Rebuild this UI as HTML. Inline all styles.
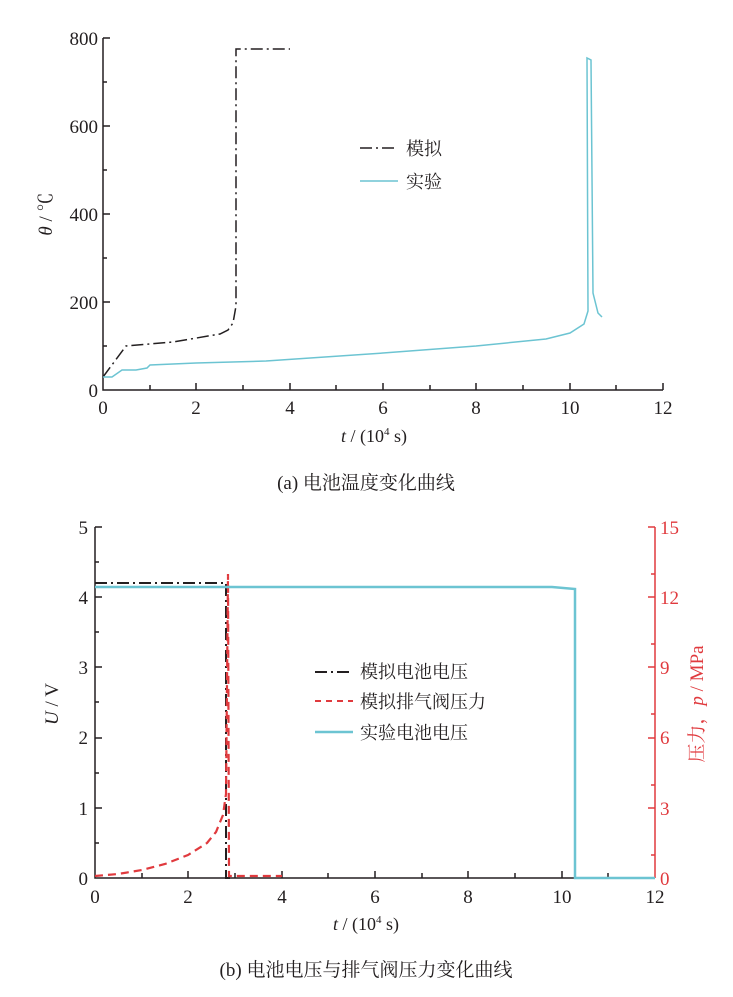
<!DOCTYPE html><html><head><meta charset="utf-8"><style>body{margin:0;background:#fff}svg text{font-family:"Liberation Serif","Noto Serif CJK SC",serif;}</style></head><body>
<svg width="733" height="992" viewBox="0 0 733 992" xmlns="http://www.w3.org/2000/svg">
<g stroke="#231f20" stroke-width="1.5" fill="none">
<path d="M103,38 V390 H663"/>
<path d="M103,38h7M103,82h4M103,126h7M103,170h4M103,214h7M103,258h4M103,302h7M103,346h4"/>
<path d="M150,390v-5M196,390v-7M243,390v-5M290,390v-7M336,390v-5M383,390v-7M430,390v-5M476,390v-7M523,390v-5M570,390v-7M616,390v-5M663,390v-7"/>
</g>
<g font-size="19" fill="#231f20" text-anchor="end">
<text x="98" y="45">800</text><text x="98" y="133">600</text><text x="98" y="221">400</text><text x="98" y="309">200</text><text x="98" y="397">0</text></g>
<g font-size="19" fill="#231f20" text-anchor="middle">
<text x="103" y="414">0</text><text x="196" y="414">2</text><text x="290" y="414">4</text><text x="383" y="414">6</text><text x="476" y="414">8</text><text x="570" y="414">10</text><text x="663" y="414">12</text></g>
<text x="341" y="442" font-size="18" fill="#231f20"><tspan font-style="italic">t</tspan> / (10<tspan font-size="11" dy="-7">4</tspan><tspan dy="7"> s)</tspan></text>
<text transform="translate(52,214) rotate(-90)" font-size="19" text-anchor="middle" fill="#231f20"><tspan font-style="italic">θ</tspan> / ℃</text>
<path d="M103,377L126,346L173,342L220,334L228,330L233,323L236,306L236,49L290,49" stroke="#231f20" stroke-width="1.5" fill="none" stroke-dasharray="12,4,2,4"/>
<path d="M103,377L112,377L122,370L136,370L147,368L150,365L196,363L266,361L383,353L476,346L546,339L570,333L584,324L588,311L587,58L591,60L593,293L598,313L602,317" stroke="#6cc4d2" stroke-width="1.5" fill="none"/>
<path d="M360,148h38" stroke="#231f20" stroke-width="1.5" stroke-dasharray="12,4,2,4"/>
<path d="M360,181h38" stroke="#6cc4d2" stroke-width="1.5"/>
<text x="406" y="155" font-size="18" fill="#231f20">模拟</text>
<text x="406" y="188" font-size="18" fill="#231f20">实验</text>
<text x="366" y="489" font-size="19" text-anchor="middle" fill="#231f20">(a)  电池温度变化曲线</text>

<g stroke="#231f20" stroke-width="1.5" fill="none">
<path d="M95,527 V878 H655"/>
<path d="M95,527h7M95,562h4M95,597h7M95,632h4M95,667h7M95,702h4M95,738h7M95,773h4M95,808h7M95,843h4"/>
<path d="M142,878v-5M188,878v-7M235,878v-5M282,878v-7M328,878v-5M375,878v-7M422,878v-5M468,878v-7M515,878v-5M562,878v-7M608,878v-5"/>
</g>
<g stroke="#e03a3e" stroke-width="1.5" fill="none">
<path d="M655,527V878"/>
<path d="M655,527h-7M655,574h-4M655,597h-7M655,644h-4M655,667h-7M655,714h-4M655,738h-7M655,785h-4M655,808h-7M655,855h-4"/>
</g>
<g font-size="19" fill="#231f20" text-anchor="end">
<text x="88" y="534">5</text><text x="88" y="604">4</text><text x="88" y="674">3</text><text x="88" y="744">2</text><text x="88" y="815">1</text><text x="88" y="885">0</text></g>
<g font-size="19" fill="#e03a3e">
<text x="660" y="534">15</text><text x="660" y="604">12</text><text x="660" y="674">9</text><text x="660" y="744">6</text><text x="660" y="815">3</text><text x="660" y="885">0</text></g>
<g font-size="19" fill="#231f20" text-anchor="middle">
<text x="95" y="903">0</text><text x="188" y="903">2</text><text x="282" y="903">4</text><text x="375" y="903">6</text><text x="468" y="903">8</text><text x="562" y="903">10</text><text x="655" y="903">12</text></g>
<text x="333" y="930" font-size="18" fill="#231f20"><tspan font-style="italic">t</tspan> / (10<tspan font-size="11" dy="-7">4</tspan><tspan dy="7"> s)</tspan></text>
<text transform="translate(58,704) rotate(-90)" font-size="19" text-anchor="middle" fill="#231f20"><tspan font-style="italic">U</tspan> / V</text>
<text transform="translate(703,704) rotate(-90)" font-size="19" text-anchor="middle" fill="#e03a3e">压力，<tspan font-style="italic">p</tspan> / MPa</text>
<path d="M95,583H226V878H232" stroke="#231f20" stroke-width="2" fill="none" stroke-dasharray="12,4,2,4"/>
<path d="M95,876L118,874L142,870L165,864L188,855L207,843L216,832L223,815L226,794L228,574L229,876L282,876" stroke="#e03a3e" stroke-width="2.2" fill="none" stroke-dasharray="8,5"/>
<path d="M95,587H552L575,589V878H655" stroke="#6cc4d2" stroke-width="2.5" fill="none"/>
<path d="M315,672h38" stroke="#231f20" stroke-width="2" stroke-dasharray="12,4,2,4"/>
<path d="M315,701h38" stroke="#e03a3e" stroke-width="2" stroke-dasharray="6,5"/>
<path d="M315,732h38" stroke="#6cc4d2" stroke-width="2.5"/>
<text x="360" y="678" font-size="18" fill="#231f20">模拟电池电压</text>
<text x="360" y="708" font-size="18" fill="#231f20">模拟排气阀压力</text>
<text x="360" y="739" font-size="18" fill="#231f20">实验电池电压</text>
<text x="366" y="976" font-size="19" text-anchor="middle" fill="#231f20">(b)  电池电压与排气阀压力变化曲线</text>
</svg></body></html>
